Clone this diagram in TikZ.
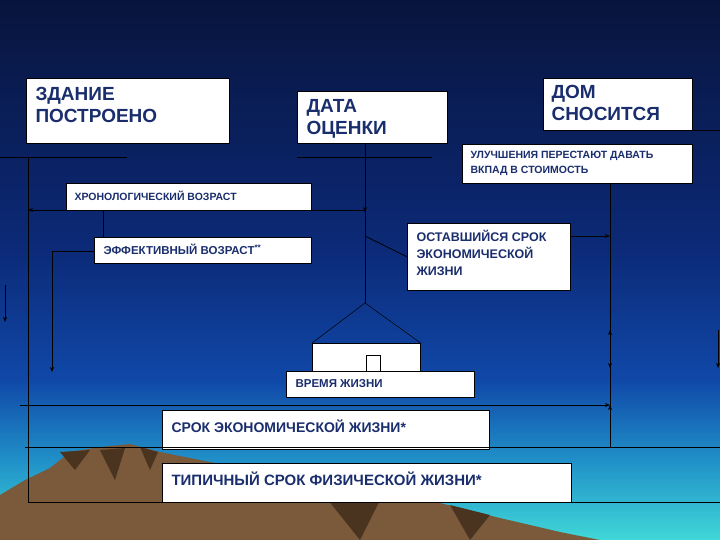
\documentclass[tikz,border=0pt]{standalone}
\usepackage{fontspec}
\setmainfont{Liberation Sans}
\usetikzlibrary{arrows.meta}
\definecolor{txt}{HTML}{1A2E6E}
\definecolor{bgA}{HTML}{08143C}
\definecolor{bgB}{HTML}{0C2A78}
\definecolor{bgC}{HTML}{1048A8}
\definecolor{bgD}{HTML}{2090C8}
\definecolor{bgE}{HTML}{40D8D8}
\definecolor{mtn}{HTML}{7A5A3A}
\definecolor{mtnd}{HTML}{4A3420}
\tikzset{
  box/.style={draw=black,line width=0.6pt,fill=white,inner sep=0pt},
  lbl/.style={text=txt,font=\bfseries,align=left,anchor=north west},
  ln/.style={black,line width=0.8pt},
  ar/.style={ln,-{Stealth[length=5pt,width=4pt]}}
}
\begin{document}
\begin{tikzpicture}[x=1pt,y=-1pt]
\useasboundingbox (0,0) rectangle (720,540);
% background
\shade[top color=bgA,bottom color=bgB] (0,0) rectangle (720,250);
\shade[top color=bgB,bottom color=bgC] (0,250) rectangle (720,380);
\shade[top color=bgC,bottom color=bgD] (0,380) rectangle (720,460);
\shade[top color=bgD,bottom color=bgE] (0,460) rectangle (720,540);
% mountains
\fill[mtn] (0,540)--(0,495)--(25,480)--(50,468)--(70,452)--(100,447)--(130,444)--(160,452)--(250,470)--(330,480)--(420,498)--(500,518)--(560,532)--(600,540)--cycle;
\fill[mtnd] (60,452)--(75,470)--(90,450)--cycle;
\fill[mtnd] (100,450)--(115,480)--(125,448)--cycle;
\fill[mtnd] (140,447)--(150,470)--(158,452)--cycle;
\fill[mtnd] (320,490)--(360,540)--(380,500)--cycle;
\fill[mtnd] (450,505)--(470,540)--(490,515)--cycle;
% boxes
\node[box,minimum width=203pt,minimum height=65pt,anchor=north west] (built) at (26,78) {};
\node[lbl,font=\bfseries\fontsize{19}{22}\selectfont] at (32,84) {ЗДАНИЕ\\ПОСТРОЕНО};
\node[box,minimum width=150pt,minimum height=52pt,anchor=north west] (date) at (297,91) {};
\node[lbl,font=\bfseries\fontsize{19}{22}\selectfont] at (303,96) {ДАТА\\ОЦЕНКИ};
\node[box,minimum width=149pt,minimum height=52pt,anchor=north west] (demol) at (543,78) {};
\node[lbl,font=\bfseries\fontsize{19}{22}\selectfont] at (548,82) {ДОМ\\СНОСИТСЯ};
\node[box,minimum width=230pt,minimum height=39pt,anchor=north west] (impr) at (462,144) {};
\node[lbl,font=\bfseries\fontsize{10.5}{15}\selectfont] at (467,148) {УЛУЧШЕНИЯ ПЕРЕСТАЮТ ДАВАТЬ\\ВКПАД В СТОИМОСТЬ};
\node[box,minimum width=245pt,minimum height=27pt,anchor=north west] (chron) at (66,183) {};
\node[lbl,font=\bfseries\fontsize{10.5}{13}\selectfont] at (71,187) {ХРОНОЛОГИЧЕСКИЙ ВОЗРАСТ};
\node[box,minimum width=217pt,minimum height=26pt,anchor=north west] (eff) at (94,237) {};
\node[lbl,font=\bfseries\fontsize{11.5}{13}\selectfont] at (100,241) {ЭФФЕКТИВНЫЙ ВОЗРАСТ\textsuperscript{**}};
\node[box,minimum width=163pt,minimum height=67pt,anchor=north west] (rem) at (407,223) {};
\node[lbl,font=\bfseries\fontsize{12.5}{17}\selectfont] at (413,227) {ОСТАВШИЙСЯ СРОК\\ЭКОНОМИЧЕСКОЙ\\ЖИЗНИ};
% house
\node[box,minimum width=108pt,minimum height=28pt,anchor=north west] (house) at (312,343) {};
\coordinate (apex) at (365,303);
\draw[ln,line width=0.5pt] (house.north west)--(apex)--(house.north east);
\node[draw=black,line width=0.6pt,fill=white,minimum width=14pt,minimum height=16pt,inner sep=0pt,anchor=north west] (win) at (366,355) {};
\node[box,minimum width=188pt,minimum height=26pt,anchor=north west] (life) at (286,371) {};
\node[lbl,font=\bfseries\fontsize{11.5}{13}\selectfont] at (292,376) {ВРЕМЯ ЖИЗНИ};
\node[box,minimum width=327pt,minimum height=39pt,anchor=north west] (econ) at (162,410) {};
\node[lbl,font=\bfseries\fontsize{14}{16}\selectfont] at (168,416) {СРОК ЭКОНОМИЧЕСКОЙ ЖИЗНИ*};
\node[box,minimum width=409pt,minimum height=39pt,anchor=north west] (phys) at (162,463) {};
\node[lbl,font=\bfseries\fontsize{15}{17}\selectfont] at (168,468) {ТИПИЧНЫЙ СРОК ФИЗИЧЕСКОЙ ЖИЗНИ*};
% coordinates
\coordinate (l0) at (0,157); \coordinate (l1) at (127,157);
\coordinate (d0) at (297,157); \coordinate (d1) at (432,157);
\coordinate (r0) at (692,130); \coordinate (r1) at (720,130);
\coordinate (vT) at (28,157); \coordinate (vB) at (28,502);
\coordinate (b1) at (720,502);
\coordinate (a0) at (5,285); \coordinate (a1) at (5,322);
\coordinate (c0) at (66,210); \coordinate (c1) at (28,210);
\coordinate (c2) at (311,210); \coordinate (c3) at (365,210);
\coordinate (e0) at (103,210); \coordinate (e1) at (103,237);
\coordinate (f0) at (94,251); \coordinate (f1) at (52,251); \coordinate (f2) at (52,372);
\coordinate (dt) at (365,143); \coordinate (dm) at (365,212);
\coordinate (g0) at (365,236); \coordinate (g1) at (570,236); \coordinate (g2) at (610,236);
\coordinate (h0) at (610,183); \coordinate (h1) at (610,447);
\coordinate (h2) at (610,345); \coordinate (h3) at (610,330); \coordinate (h4) at (610,368);
\coordinate (k0) at (20,405); \coordinate (k1) at (610,405);
\coordinate (m0) at (25,447); \coordinate (m1) at (720,447);
\coordinate (z0) at (718,330); \coordinate (z1) at (718,368);
% lines
\draw[ln] (l0)--(l1); \draw[ln] (d0)--(d1); \draw[ln] (r0)--(r1);
\draw[ln] (vT)--(vB)--(b1);
\draw[ar] (a0)--(a1);
\draw[ar] (c0)--(c1); \draw[ln] (c2)--(c3);
\draw[ln] (e0)--(e1);
\draw[ar] (f0)--(f1)--(f2);
\draw[ln] (dt)--(apex); \draw[ar] (dt)--(dm);
\draw[ln] (g0)--(rem.west); \draw[ar] (g1)--(g2);
\draw[ln] (h0)--(h1);
\draw[ar] (h0)--(h4); \draw[ar] (h4)--(h3);
\draw[ar] (k0)--(k1); \draw[ar] (h1)--(k1);
\draw[ln] (m0)--(m1);
\draw[ar] (z0)--(z1);
\end{tikzpicture}
\end{document}
